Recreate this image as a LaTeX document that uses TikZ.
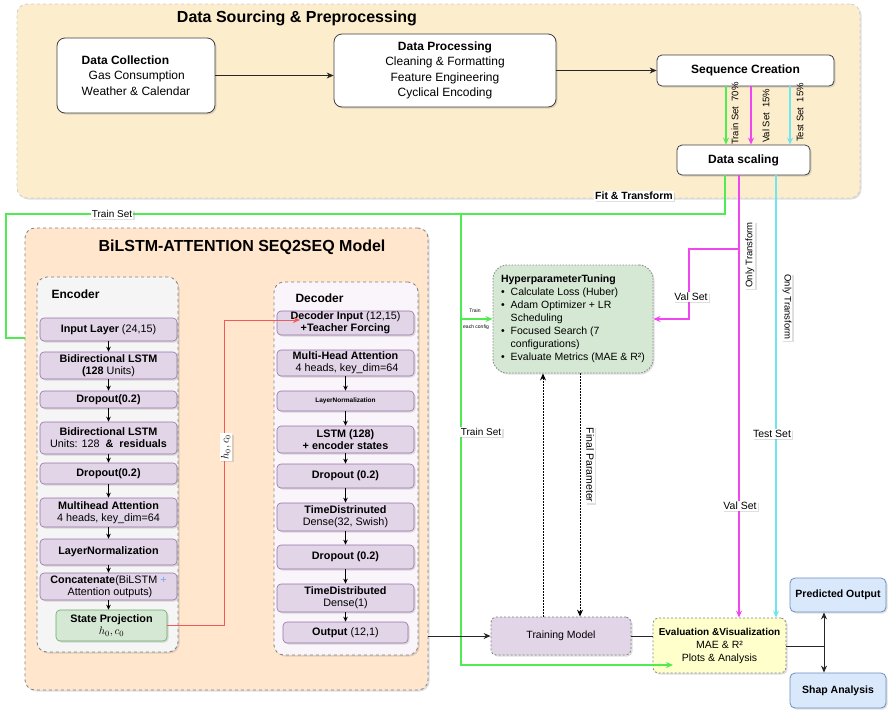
\documentclass[tikz,border=0pt]{standalone}
\usepackage{fontspec}
\setmainfont{Liberation Sans}
\usetikzlibrary{arrows.meta,shadows}

\definecolor{topfill}{RGB}{252,237,204}
\definecolor{peach}{RGB}{255,230,204}
\definecolor{encfill}{RGB}{245,245,245}
\definecolor{decfill}{RGB}{250,245,250}
\definecolor{purp}{RGB}{225,213,231}
\definecolor{purpd}{RGB}{150,115,166}
\definecolor{hpfill}{RGB}{213,232,212}
\definecolor{evfill}{RGB}{255,255,204}
\definecolor{bluefill}{RGB}{218,232,252}
\definecolor{blued}{RGB}{108,142,191}
\definecolor{gcol}{RGB}{80,235,80}
\definecolor{mcol}{RGB}{240,70,240}
\definecolor{ccol}{RGB}{110,230,240}
\definecolor{rcol}{RGB}{240,90,90}
\definecolor{dashgray}{RGB}{130,130,130}
\definecolor{plusblue}{RGB}{100,170,255}

\tikzset{
  shd/.style={drop shadow={opacity=0.25,shadow xshift=1.5pt,shadow yshift=-1.5pt}},
  container/.style={dashed, line width=0.8pt, rounded corners=10pt, shd},
  wbox/.style={draw=black!75, fill=white, rounded corners=8pt, line width=0.8pt, shd,
    align=center, inner sep=1pt, font=\fontsize{12}{15.5}\selectfont},
  layer/.style={draw=purpd, fill=purp, rounded corners=4pt, line width=0.6pt, shd,
    align=center, inner sep=0.5pt, minimum width=137pt, font=\fontsize{10.8}{12}\selectfont},
  titlefont/.style={font=\bfseries\fontsize{16}{19}\selectfont},
  subtitle/.style={font=\bfseries\fontsize{12}{14}\selectfont, anchor=west},
  lbl/.style={fill=white, inner sep=1pt, shd, font=\fontsize{10.5}{12}\selectfont},
  gline/.style={draw=gcol, line width=1.2pt},
  mline/.style={draw=mcol, line width=1.2pt},
  cline/.style={draw=ccol, line width=1.2pt},
  rline/.style={draw=rcol, line width=1pt},
  blk/.style={draw=black!85, line width=1pt},
  smarrow/.style={draw=black, line width=0.8pt, -{Stealth[length=5pt,width=4.5pt]}},
  dotarrow/.style={draw=black, line width=1pt, dash pattern=on 1.5pt off 1.5pt},
  bluebox/.style={draw=blued, fill=bluefill, rounded corners=5pt, line width=0.8pt, shd,
    font=\bfseries\fontsize{10.5}{12}\selectfont, minimum width=96pt},
}

\begin{document}
\begin{tikzpicture}[x=1pt,y=-1pt, >={Stealth[length=7pt,width=6pt]}]
\useasboundingbox (0,0) rectangle (892,710);

% ---------- containers ----------
\node[container, draw=black!20, fill=topfill, minimum width=843pt, minimum height=194pt] (top) at (438.5,101) {};
\node[titlefont] (toptitle) at (297,18) {Data Sourcing \& Preprocessing};

\node[container, draw=dashgray, fill=peach, minimum width=403pt, minimum height=462pt] (bil) at (226.5,459) {};
\node[titlefont] (biltitle) at (242,247) {BiLSTM-ATTENTION SEQ2SEQ Model};

\node[container, draw=dashgray, fill=encfill, minimum width=141pt, minimum height=375pt] (enc) at (107.5,464.5) {};
\node[subtitle] (enct) at (48,294) {Encoder};
\node[container, draw=dashgray, fill=decfill, minimum width=144pt, minimum height=373pt] (dec) at (346,468.5) {};
\node[subtitle] (dect) at (292,298) {Decoder};

% ---------- top boxes ----------
\node[wbox, minimum width=158pt, minimum height=75pt, align=left] (dc) at (136,75.5)
  {\textbf{Data Collection}\\\hspace*{7pt}Gas Consumption\\Weather \& Calendar};
\node[wbox, minimum width=222pt, minimum height=73pt] (dp) at (445,70.5)
  {\textbf{Data Processing}\\Cleaning \& Formatting\\Feature Engineering\\Cyclical Encoding};
\node[wbox, rounded corners=5pt, minimum width=177pt, minimum height=31pt, font=\bfseries\fontsize{12}{14}\selectfont] (seq) at (745.5,70.5) {Sequence Creation};
\node[wbox, rounded corners=5pt, minimum width=133pt, minimum height=30pt, font=\bfseries\fontsize{12}{14}\selectfont] (scal) at (743.5,160) {Data scaling};

% ---------- encoder layers ----------
\node[layer, minimum height=23pt] (e1) at (108.5,329.5) {\textbf{Input Layer} (24,15)};
\node[layer, minimum height=27pt] (e2) at (108.5,365.5) {\textbf{Bidirectional LSTM}\\\textbf{(128} Units)};
\node[layer, minimum height=17pt] (e3) at (108.5,399.5) {\textbf{Dropout(0.2)}};
\node[layer, minimum height=32pt] (e4) at (108.5,438) {\textbf{Bidirectional LSTM}\\Units: 128 \textbf{ \& \ residuals}};
\node[layer, minimum height=21pt] (e5) at (108.5,473.5) {\textbf{Dropout(0.2)}};
\node[layer, minimum height=29pt] (e6) at (108.5,512.5) {\textbf{Multihead Attention}\\4 heads, key\_dim=64};
\node[layer, minimum height=26pt] (e7) at (108.5,552) {\textbf{LayerNormalization}};
\node[layer, minimum height=27pt] (e8) at (108.5,586.5) {\textbf{Concatenate}(BiLSTM \textcolor{plusblue}{+}\\\ Attention outputs)};
\node[layer, draw=green!45!black!60, fill=hpfill, minimum width=111pt, minimum height=31pt] (sp) at (111.5,625.5) {\textbf{State Projection}\\$h_0, c_0$};

\foreach \a/\b in {e1/e2,e2/e3,e3/e4,e4/e5,e5/e6,e6/e7,e7/e8}
  \draw[smarrow] (\a.south) -- (\b.north);
\draw[smarrow] (e8.south) -- (e8.south |- sp.north);

% ---------- decoder layers ----------
\node[layer, minimum height=24pt] (d1) at (345.5,323) {\textbf{Decoder Input} (12,15)\\\textbf{+Teacher Forcing}};
\node[layer, minimum height=26pt] (d2) at (345.5,363) {\textbf{Multi-Head Attention}\\\ 4 heads, key\_dim=64};
\node[layer, minimum height=20pt, font=\bfseries\fontsize{6.5}{8}\selectfont] (d3) at (345.5,401) {LayerNormalization};
\node[layer, minimum height=27pt] (d4) at (345.5,439.5) {\textbf{LSTM (128)}\\\textbf{+ encoder states}};
\node[layer, minimum height=24pt] (d5) at (345.5,476) {\textbf{Dropout (0.2)}};
\node[layer, minimum height=28pt] (d6) at (345.5,517) {\textbf{TimeDistrinuted}\\Dense(32, Swish)};
\node[layer, minimum height=24pt] (d7) at (345.5,557) {\textbf{Dropout (0.2)}};
\node[layer, minimum height=28pt] (d8) at (345.5,598) {\textbf{TimeDistributed}\\Dense(1)};
\node[layer, minimum width=125pt, minimum height=21pt] (d9) at (345.5,632.5) {\textbf{Output} (12,1)};

\foreach \a/\b in {d2/d3,d3/d4,d4/d5,d5/d6,d6/d7,d7/d8,d8/d9}
  \draw[smarrow] (\a.south) -- (\b.north);

% ---------- right-hand boxes ----------
\node[draw=black!45, fill=hpfill, rounded corners=14pt, line width=0.9pt, dash pattern=on 1.5pt off 1.5pt, shd,
      minimum width=160pt, minimum height=108pt, inner sep=0pt, font=\fontsize{10.5}{13}\selectfont] (hp) at (573,319)
  {\begin{tabular}{@{}l@{\hspace{6pt}}l@{}}
   \multicolumn{2}{@{}l}{\textbf{HyperparameterTuning}}\\
   \textbullet & Calculate Loss (Huber)\\
   \textbullet & Adam Optimizer + LR\\
               & Scheduling\\
   \textbullet & Focused Search (7\\
               & configurations)\\
   \textbullet & Evaluate Metrics (MAE \& R²)
   \end{tabular}};

\node[draw=dashgray, fill=purp, rounded corners=5pt, line width=0.8pt, dash pattern=on 2pt off 2pt, shd,
      minimum width=140pt, minimum height=38pt, font=\fontsize{10.5}{12}\selectfont] (tm) at (561,636) {Training Model};

\node[draw=dashgray, fill=evfill, rounded corners=5pt, line width=0.8pt, dash pattern=on 2pt off 2pt, shd,
      minimum width=133pt, minimum height=55pt, inner sep=0pt, align=center, font=\fontsize{10.5}{13}\selectfont] (ev) at (719.5,645.5)
  {{\fontsize{10}{13}\selectfont\textbf{Evaluation \&Visualization}}\\MAE \& R²\\Plots \& Analysis};

\node[bluebox, minimum height=34pt] (pred) at (838,595) {Predicted Output};
\node[bluebox, minimum height=35pt] (shap) at (838,690.5) {Shap Analysis};

% ---------- coordinates for connectors ----------
\coordinate (sgx) at (726,0);
\coordinate (smx) at (751,0);
\coordinate (scx) at (790,0);
\coordinate (gx) at (725,214);
\coordinate (gL) at (6,214);
\coordinate (gIn) at (25,338);
\coordinate (tx) at (461,214);
\coordinate (evIn) at (673,665);
\coordinate (mx) at (739,249);
\coordinate (mk) at (689,249);
\coordinate (cx) at (776,0);
\coordinate (ux) at (543,0);
\coordinate (dx) at (580,0);
\coordinate (br) at (824,646);
\coordinate (rk) at (224,320);
\coordinate (rEnd) at (300,320);

% ---------- connectors ----------
\draw[blk,->] (dc.east) -- (dc.east -| dp.west);
\draw[blk,->] (dp.east |- seq.west) -- (seq.west);

\draw[gline,->] (seq.south -| sgx) -- (scal.north -| sgx);
\draw[mline,->] (seq.south -| smx) -- (scal.north -| smx);
\draw[cline,->] (seq.south -| scx) -- (scal.north -| scx);

\draw[gline] (scal.south -| gx) -- (gx) -- (gL) |- (gIn);
\draw[gline,->] (tx) |- (evIn);
\draw[gline,->] (tx |- hp.west) -- (hp.west);

\draw[mline,->] (scal.south -| mx) -- (ev.north -| mx);
\draw[mline,->] (mx) -- (mk) |- (hp.east);
\draw[cline,->] (scal.south -| cx) -- (ev.north -| cx);

\draw[dotarrow,->] (tm.north -| ux) -- (hp.south -| ux);
\draw[dotarrow,->] (hp.south -| dx) -- (tm.north -| dx);

\draw[blk,->] (bil.east |- tm.west) -- (tm.west);
\draw[blk] (tm.east) -- (ev.west |- tm.east);
\draw[blk] (ev.east |- br) -- (br);
\draw[blk,->] (br) -- (pred.south -| br);
\draw[blk,->] (br) -- (shap.north -| br);

\draw[rline,->] (sp.east) -| (rk) -- (rEnd);

% ---------- labels ----------
\node[rotate=90, anchor=west, inner sep=0pt, font=\fontsize{9.5}{10}\selectfont] (l70) at (735,145) {Train Set \ 70\%};
\node[rotate=90, anchor=west, inner sep=0pt, font=\fontsize{9.5}{10}\selectfont] (l15v) at (766,143) {Val Set \ 15\%};
\node[rotate=90, anchor=west, inner sep=0pt, font=\fontsize{9.5}{10}\selectfont] (l15t) at (800,142) {Test Set \ 15\%};

\node[lbl, font=\bfseries\fontsize{10.5}{12}\selectfont] (fit) at (634,196) {Fit \& Transform};
\node[lbl, font=\fontsize{10}{12}\selectfont] (trs1) at (112,214) {Train Set};
\node[lbl, font=\fontsize{10}{12}\selectfont] (trs2) at (481,432) {Train Set};
\node[inner sep=0pt, font=\fontsize{5}{6}\selectfont] (trn) at (475,311) {Train};
\node[inner sep=0pt, font=\fontsize{5}{6}\selectfont] (trc) at (476,327) {each config};
\node[lbl] (vs1) at (691,297) {Val Set};
\node[lbl] (vs2) at (740,506) {Val Set};
\node[lbl] (ts) at (772,434) {Test Set};
\node[lbl, rotate=90, font=\fontsize{9.5}{11}\selectfont] (ot1) at (750,255) {Only Transform};
\node[lbl, rotate=-90, font=\fontsize{9.5}{11}\selectfont] (ot2) at (787,307) {Only Transform};
\node[lbl, rotate=-90] (fp) at (590,465) {Final Parameter};
\node[lbl, rotate=90, inner sep=1.5pt] (hc) at (226,447) {$h_0, c_0$};

\end{tikzpicture}
\end{document}
